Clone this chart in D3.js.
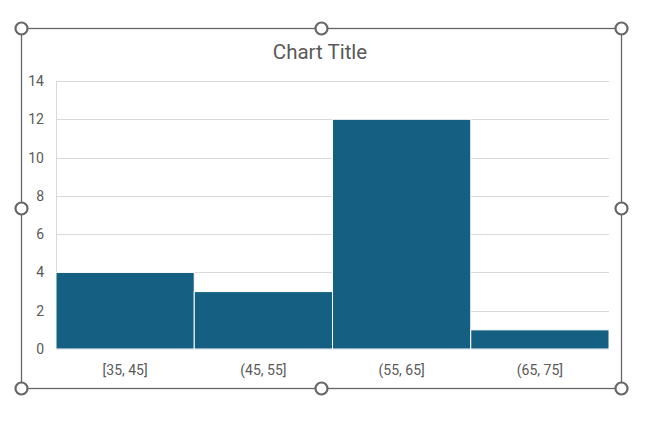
<!DOCTYPE html>
<html><head><meta charset="utf-8">
<script src="https://cdn.jsdelivr.net/npm/d3@7"></script>
<style>body{margin:0;background:#fff}svg{display:block}</style>
</head><body>
<svg id="c" width="650" height="435"></svg>
<script>
const categories = ["[35, 45]", "(45, 55]", "(55, 65]", "(65, 75]"];
const counts = [4, 3, 12, 1];
const yTicks = [0, 2, 4, 6, 8, 10, 12, 14];
const title = "Chart Title";

const svg = d3.select("#c");
const font = "Roboto, 'Liberation Sans', sans-serif";
const frame = {x0: 21.5, y0: 28.5, x1: 621.5, y1: 388.5};
const m = {left: 56, right: 609, top: 81, bottom: 349};

const x = d3.scaleBand().domain(categories).range([m.left, m.right]).padding(0);
const y = d3.scaleLinear().domain([0, 14]).range([m.bottom, m.top]);

svg.append("rect").attr("x", frame.x0).attr("y", frame.y0)
  .attr("width", frame.x1 - frame.x0).attr("height", frame.y1 - frame.y0)
  .attr("fill", "#fff").attr("stroke", "#666").attr("stroke-width", 1.3);

svg.append("text").attr("x", 320).attr("y", 58.5).attr("text-anchor", "middle")
  .attr("font-family", font).attr("font-size", 20.5).attr("fill", "#595959").text(title);

svg.append("g").selectAll("line").data(yTicks).join("line")
  .attr("x1", m.left).attr("x2", m.right)
  .attr("y1", d => Math.round(y(d)) + 0.5).attr("y2", d => Math.round(y(d)) + 0.5)
  .attr("stroke", "#d9d9d9").attr("stroke-width", 1);
svg.append("line").attr("x1", m.left + 0.5).attr("x2", m.left + 0.5)
  .attr("y1", m.top).attr("y2", m.bottom).attr("stroke", "#d9d9d9");

const yAxis = d3.axisLeft(y).tickValues(yTicks).tickSize(0).tickPadding(12);
const gy = svg.append("g").attr("transform", `translate(${m.left},0)`).call(yAxis);
gy.select(".domain").remove();
gy.selectAll("text").attr("font-family", font).attr("font-size", 14).attr("fill", "#595959");

svg.append("g").selectAll("rect").data(counts).join("rect")
  .attr("x", (d, i) => x(categories[i]))
  .attr("y", d => y(d))
  .attr("width", x.bandwidth())
  .attr("height", d => y(0) - y(d))
  .attr("fill", "#156082").attr("stroke", "#fff").attr("stroke-width", 1);

const xAxis = d3.axisBottom(x).tickSize(0).tickPadding(16);
const gx = svg.append("g").attr("transform", `translate(0,${m.bottom})`).call(xAxis);
gx.select(".domain").remove();
gx.selectAll("text").attr("font-family", font).attr("font-size", 14).attr("fill", "#595959");

const mx = (frame.x0 + frame.x1) / 2, my = (frame.y0 + frame.y1) / 2;
const handles = [[frame.x0, frame.y0], [mx, frame.y0], [frame.x1, frame.y0],
  [frame.x0, my], [frame.x1, my], [frame.x0, frame.y1], [mx, frame.y1], [frame.x1, frame.y1]];
svg.append("g").selectAll("circle").data(handles).join("circle")
  .attr("cx", d => d[0]).attr("cy", d => d[1]).attr("r", 6)
  .attr("fill", "#fff").attr("stroke", "#666").attr("stroke-width", 2.2);
</script>
</body></html>
